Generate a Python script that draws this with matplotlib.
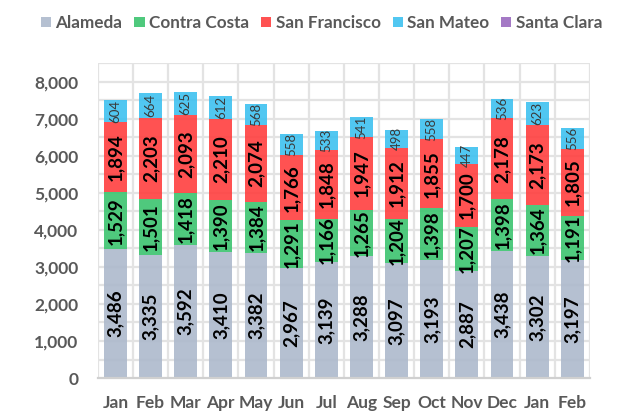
import matplotlib
matplotlib.use("Agg")
import matplotlib.pyplot as plt
import numpy as np

months = ["Jan", "Feb", "Mar", "Apr", "May", "Jun", "Jul", "Aug", "Sep", "Oct", "Nov", "Dec", "Jan", "Feb"]
alameda = [3486, 3335, 3592, 3410, 3382, 2967, 3139, 3288, 3097, 3193, 2887, 3438, 3302, 3197]
contra_costa = [1529, 1501, 1418, 1390, 1384, 1291, 1166, 1265, 1204, 1398, 1207, 1398, 1364, 1191]
san_francisco = [1894, 2203, 2093, 2210, 2074, 1766, 1848, 1947, 1912, 1855, 1700, 2178, 2173, 1805]
san_mateo = [604, 664, 625, 612, 568, 558, 533, 541, 498, 558, 447, 536, 623, 556]
santa_clara = [0] * 14

series = [
    ("Alameda", alameda, "#adb9cc"),
    ("Contra Costa", contra_costa, "#3cc46f"),
    ("San Francisco", san_francisco, "#ff3f3f"),
    ("San Mateo", san_mateo, "#3ec1f0"),
    ("Santa Clara", santa_clara, "#9a6bbf"),
]

plt.rcParams['font.family'] = ['Lato', 'DejaVu Sans']

fig = plt.figure(figsize=(6.19, 4.12), dpi=100)
ax = fig.add_axes([0.158, 0.0825, 0.795, 0.7635])

x = np.arange(len(months))
ax.set_xlim(-0.5, len(months) - 0.5)
ax.set_ylim(0, 8500)

# grid
for yv in np.arange(500, 8501, 500):
    ax.axhline(yv, color="#e3e3e3", lw=1.6, zorder=0)
for xv in np.arange(-0.5, len(months), 1.0):
    ax.axvline(xv, color="#e3e3e3", lw=1.6, zorder=0)

bottom = np.zeros(len(months))
handles = []
for name, vals, col in series:
    vals = np.array(vals, dtype=float)
    b = ax.bar(x, vals, bottom=bottom, width=0.65, color=col, alpha=0.9, zorder=2, label=name)
    handles.append(b)
    for xi, v, bt in zip(x, vals, bottom):
        if v <= 0:
            continue
        if name == "San Mateo":
            ax.text(xi, bt + v / 2, f"{int(v):,}", rotation=90, ha="center", va="center",
                    fontsize=9.5, color="#3a3a3a", zorder=3)
        else:
            ax.text(xi, bt + v / 2, f"{int(v):,}", rotation=90, ha="center", va="center",
                    fontsize=13.5, fontweight="bold", color="#000000", zorder=3)
    bottom += vals

ax.set_yticks(np.arange(0, 8001, 1000))
ax.set_yticklabels([f"{v:,}" for v in range(0, 8001, 1000)])
ax.set_xticks(x)
ax.set_xticklabels(months)
ax.tick_params(axis="both", length=0, labelsize=12.5, colors="#595959")
ax.tick_params(axis="y", pad=14)
ax.tick_params(axis="x", pad=12)
for lab in ax.get_xticklabels() + ax.get_yticklabels():
    lab.set_fontweight("bold")

for s in ["top", "right", "left"]:
    ax.spines[s].set_visible(False)
ax.spines["bottom"].set_color("#d0d0d0")
ax.spines["bottom"].set_linewidth(1.6)
ax.spines["bottom"].set_zorder(4)

leg = fig.legend(handles=handles, loc="center left", bbox_to_anchor=(41 / 619, 0.944), ncol=5,
                 frameon=False, fontsize=12.3, handlelength=0.6, handleheight=0.6,
                 handletextpad=0.25, columnspacing=0.7, borderaxespad=0, borderpad=0)
for t in leg.get_texts():
    t.set_color("#595959")
    t.set_fontweight("bold")

fig.savefig("out.png", dpi=100)
